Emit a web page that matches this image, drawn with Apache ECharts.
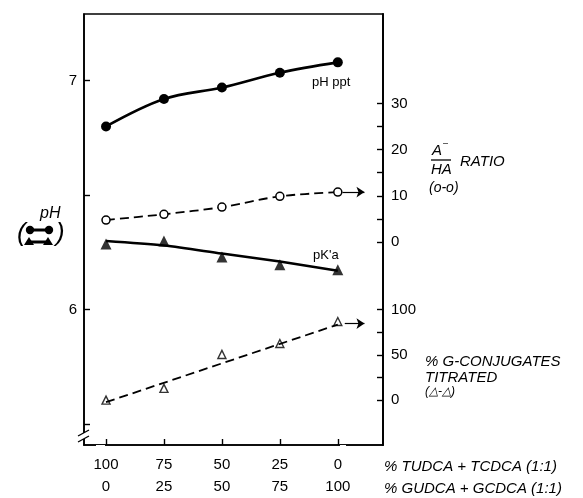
<!DOCTYPE html>
<html>
<head>
<meta charset="utf-8">
<script src="https://cdn.jsdelivr.net/npm/echarts@6/dist/echarts.min.js"></script>
<style>
  html, body { margin: 0; padding: 0; background: #fff; }
  #chart { width: 583px; height: 498px; }
</style>
</head>
<body>
<div id="chart"></div>
<script>
// Mixture composition: % GUDCA + GCDCA (x position); the other row is % TUDCA + TCDCA
const gPct = [0, 25, 50, 75, 100];
const tPct = [100, 75, 50, 25, 0];

// pH of precipitation (filled circles, left axis)
const phPpt = [6.80, 6.92, 6.97, 7.035, 7.08];
// Apparent pK'a (filled triangles, left axis)
const pKa = [6.287, 6.30, 6.23, 6.196, 6.174];
const pKaFit = [6.30, 6.28, 6.245, 6.21, 6.17];
// A-/HA ratio (open circles, right upper scale)
const ratio = [4.75, 6.0, 7.55, 9.9, 10.8];
// % G-conjugates titrated (open triangles, right lower scale)
const gTitrated = [0, 13, 50.5, 62.6, 86.8];
const gFitX = [0, 100];
const gFitY = [-2.2, 83.5];

// Tick marks and labels
const xTicks = [0, 25, 50, 75, 100];
const phTicks = [5.5, 6, 6.5, 7];
const phLabels = [6, 7];
const ratioTicks = [0, 5, 10, 15, 20, 25, 30];
const ratioLabels = [0, 10, 20, 30];
const gTicks = [0, 25, 50, 75, 100];
const gLabels = [0, 50, 100];

const pairs = (xs, ys) => xs.map((x, i) => [x, ys[i]]);

const FONT = 'Liberation Sans';
const axisLineStyle = { color: '#000', width: 1.6 };
const tickStyle = { color: '#000', width: 1.4 };

const chart = echarts.init(document.getElementById('chart'), null, { renderer: 'canvas' });

const arrowLine = (x0, x1, y) => ({
  silent: true, symbol: ['none', 'arrow'], symbolSize: 8,
  lineStyle: { color: '#000', width: 1.2, type: 'solid' }, label: { show: false },
  data: [[{ coord: [x0, y] }, { coord: [x1, y] }]]
});

const option = {
  backgroundColor: '#fff',
  animation: false,
  grid: { left: 84, right: 200, top: 14, bottom: 51, show: true, borderColor: '#000', borderWidth: 1.6 },
  xAxis: {
    type: 'value', min: -9.5, max: 119.5,
    splitLine: { show: false },
    axisLine: { onZero: false, lineStyle: axisLineStyle },
    axisTick: { customValues: xTicks, inside: true, length: 6, lineStyle: tickStyle },
    axisLabel: {
      customValues: xTicks, margin: 9, color: '#000', fontFamily: FONT, fontSize: 15, lineHeight: 22,
      formatter: v => (100 - v) + '\n' + v
    }
  },
  yAxis: [
    {
      type: 'value', min: 5.4087, max: 7.2913, position: 'left',
      splitLine: { show: false },
      axisLine: { show: true, onZero: false, lineStyle: axisLineStyle },
      axisTick: { customValues: phTicks, inside: true, length: 6, lineStyle: tickStyle },
      axisLabel: { customValues: phLabels, margin: 7, color: '#000', fontFamily: FONT, fontSize: 15 }
    },
    {
      type: 'value', min: -44.0, max: 49.4, position: 'right',
      splitLine: { show: false },
      axisLine: { show: true, onZero: false, lineStyle: axisLineStyle },
      axisTick: { customValues: ratioTicks, inside: true, length: 6, lineStyle: tickStyle },
      axisLabel: { customValues: ratioLabels, margin: 8, color: '#000', fontFamily: FONT, fontSize: 15 }
    },
    {
      type: 'value', min: -49.5, max: 426.4, position: 'right',
      splitLine: { show: false },
      axisLine: { show: true, onZero: false, lineStyle: axisLineStyle },
      axisTick: { customValues: gTicks, inside: true, length: 6, lineStyle: tickStyle },
      axisLabel: { customValues: gLabels, margin: 8, color: '#000', fontFamily: FONT, fontSize: 15 }
    }
  ],
  series: [
    {
      name: 'pH ppt', type: 'line', yAxisIndex: 0, data: pairs(gPct, phPpt),
      smooth: 0.35, symbol: 'circle', symbolSize: 10,
      lineStyle: { color: '#000', width: 2.6 }, itemStyle: { color: '#000' }
    },
    {
      name: "pK'a fit", type: 'line', yAxisIndex: 0, data: pairs(gPct, pKaFit),
      smooth: 0.3, symbol: 'none', lineStyle: { color: '#000', width: 2.6 }
    },
    {
      name: "pK'a", type: 'scatter', yAxisIndex: 0, data: pairs(gPct, pKa),
      symbol: 'triangle', symbolSize: 11, itemStyle: { color: '#000' }
    },
    {
      name: 'A-/HA', type: 'line', yAxisIndex: 1, data: pairs(gPct, ratio),
      smooth: 0.3, symbol: 'circle', symbolSize: 8,
      lineStyle: { color: '#000', width: 1.8, type: [9, 5] },
      itemStyle: { color: '#fff', borderColor: '#000', borderWidth: 1.5 },
      markLine: arrowLine(102, 111.5, ratio[4])
    },
    {
      name: 'G fit', type: 'line', yAxisIndex: 2, data: pairs(gFitX, gFitY),
      symbol: 'none', lineStyle: { color: '#000', width: 1.8, type: [9, 5] },
      markLine: arrowLine(103, 111.5, 84.6)
    },
    {
      name: '% G titrated', type: 'scatter', yAxisIndex: 2, data: pairs(gPct, gTitrated),
      symbol: 'triangle', symbolSize: 8,
      itemStyle: { color: '#fff', borderColor: '#000', borderWidth: 1.4 }
    }
  ],
  graphic: [
    // series names inside the plot
    { type: 'text', left: 312, top: 76, style: { text: 'pH ppt', font: '13px ' + FONT, fill: '#000' } },
    { type: 'text', left: 313, top: 249, style: { text: "pK'a", font: '13px ' + FONT, fill: '#000' } },
    // gaps in the bottom axis line
    { type: 'rect', shape: { x: 96, y: 445, width: 9, height: 4 }, style: { fill: '#fff' }, z: 100 },
    { type: 'rect', shape: { x: 340, y: 445, width: 6, height: 4 }, style: { fill: '#fff' }, z: 100 },
    // break in the left axis
    { type: 'rect', shape: { x: 80, y: 433, width: 8, height: 6 }, style: { fill: '#fff' }, z: 100 },
    { type: 'line', shape: { x1: 78, y1: 436, x2: 89, y2: 430 }, style: { stroke: '#000', lineWidth: 1.4 }, z: 101 },
    { type: 'line', shape: { x1: 78, y1: 442, x2: 89, y2: 436 }, style: { stroke: '#000', lineWidth: 1.4 }, z: 101 },
    // left axis title with key
    { type: 'text', left: 40, top: 206, style: { text: 'pH', font: 'italic 16px ' + FONT, fill: '#000' } },
    { type: 'text', left: 17, top: 221, style: { text: '(', font: 'italic 26px ' + FONT, fill: '#000' } },
    { type: 'text', left: 56, top: 221, style: { text: ')', font: 'italic 26px ' + FONT, fill: '#000' } },
    { type: 'line', shape: { x1: 30, y1: 230, x2: 49, y2: 230 }, style: { stroke: '#000', lineWidth: 3 } },
    { type: 'circle', shape: { cx: 30, cy: 230, r: 4.2 }, style: { fill: '#000' } },
    { type: 'circle', shape: { cx: 49, cy: 230, r: 4.2 }, style: { fill: '#000' } },
    { type: 'line', shape: { x1: 29, y1: 242, x2: 48, y2: 242 }, style: { stroke: '#000', lineWidth: 3 } },
    { type: 'polygon', shape: { points: [[24, 245], [29, 237], [34, 245]] }, style: { fill: '#000' } },
    { type: 'polygon', shape: { points: [[43, 245], [48, 237], [53, 245]] }, style: { fill: '#000' } },
    // right axis titles
    { type: 'text', left: 432, top: 143, style: { text: 'A', font: 'italic 15px ' + FONT, fill: '#000' } },
    { type: 'text', left: 443, top: 139, style: { text: '\u2013', font: '9px ' + FONT, fill: '#000' } },
    { type: 'line', shape: { x1: 431, y1: 160, x2: 451, y2: 160 }, style: { stroke: '#000', lineWidth: 1.3 } },
    { type: 'text', left: 431, top: 162, style: { text: 'HA', font: 'italic 15px ' + FONT, fill: '#000' } },
    { type: 'text', left: 460, top: 154, style: { text: 'RATIO', font: 'italic 15px ' + FONT, fill: '#000' } },
    { type: 'text', left: 429, top: 181, style: { text: '(o-o)', font: 'italic 14px ' + FONT, fill: '#000' } },
    { type: 'text', left: 425, top: 354, style: { text: '% G-CONJUGATES', font: 'italic 15px ' + FONT, fill: '#000' } },
    { type: 'text', left: 425, top: 370, style: { text: 'TITRATED', font: 'italic 15px ' + FONT, fill: '#000' } },
    { type: 'text', left: 425, top: 386, style: { text: '(\u25B3-\u25B3)', font: 'italic 12px ' + FONT, fill: '#000' } },
    // x axis titles
    { type: 'text', left: 384, top: 459, style: { text: '% TUDCA + TCDCA (1:1)', font: 'italic 15px ' + FONT, fill: '#000' } },
    { type: 'text', left: 384, top: 481, style: { text: '% GUDCA + GCDCA (1:1)', font: 'italic 15px ' + FONT, fill: '#000' } }
  ]
};

chart.setOption(option);
</script>
</body>
</html>
